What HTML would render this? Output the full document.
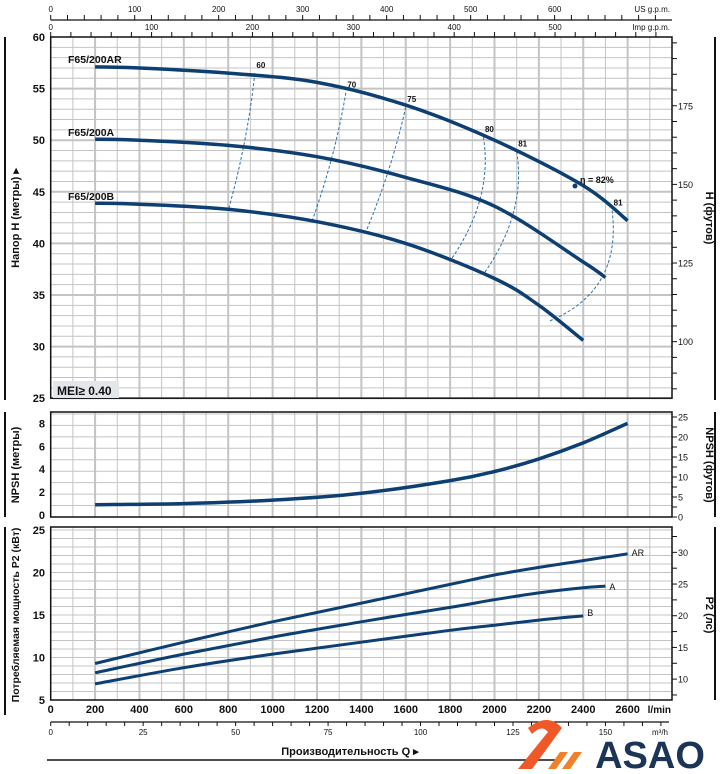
<!DOCTYPE html>
<html><head><meta charset="utf-8"><style>
body{margin:0;background:#fff;width:720px;height:769px;overflow:hidden;font-family:"Liberation Sans",sans-serif}
svg text{font-family:"Liberation Sans","Noto Sans CJK SC",sans-serif}
</style></head><body>
<svg id="c" width="720" height="769" viewBox="0 0 720 769" xmlns="http://www.w3.org/2000/svg"></svg>
<script>
// ---- data ----
const flowQ = [200, 400, 800, 1200, 1600, 2000, 2400, 2600];
const headAR = [57.1, 57.0, 56.5, 55.6, 53.4, 50.0, 45.6, 42.2];
const flowA = [200, 400, 800, 1200, 1600, 2000, 2400, 2500];
const headA = [50.1, 50.0, 49.5, 48.4, 46.4, 43.6, 38.2, 36.7];
const flowB = [200, 400, 800, 1200, 1600, 2000, 2200, 2400];
const headB = [43.9, 43.8, 43.3, 42.1, 40.0, 36.6, 34.0, 30.6];
const npshQ = [200, 600, 1000, 1400, 1800, 2000, 2200, 2400, 2600];
const npshM = [0.9, 1.0, 1.3, 1.9, 3.0, 3.8, 4.9, 6.3, 8.0];
const powQ = [200, 600, 1000, 1400, 1800, 2000, 2200, 2400, 2500, 2600];
const powAR = [9.3, 11.8, 14.2, 16.4, 18.6, 19.7, 20.6, 21.4, 21.8, 22.2];
const powA = [8.2, 10.4, 12.4, 14.2, 15.9, 16.8, 17.6, 18.2, 18.4, 18.4];
const powB = [6.9, 8.8, 10.4, 11.8, 13.2, 13.8, 14.4, 14.9, 15.0, 15.0];
const effLabels = ["60", "70", "75", "80", "81", "81"];
const effTopQ = [920, 1330, 1600, 1950, 2100, 2530];
const effTopH = [56.5, 54.6, 53.2, 50.3, 48.9, 43.2];
const effBotQ = [800, 1180, 1420, 1800, 1950, 2250];
const effBotH = [43.2, 42.3, 41.1, 38.3, 37.0, 32.5];
// ---- scales ----
const X0 = 50.7, X1 = 672;
const x = q => X0 + q / 2800 * (X1 - X0);
const yH = h => 37 + (60 - h) * 10.32;
const yN = n => 515 - n * 11.45;
const yP = p => 530 + (25 - p) * 8.5;
const svg = document.getElementById('c');
const NS = 'http://www.w3.org/2000/svg';
function el(tag, attrs, txt) {
  const e = document.createElementNS(NS, tag);
  for (const k in attrs) e.setAttribute(k, attrs[k]);
  if (txt !== undefined) e.textContent = txt;
  svg.appendChild(e); return e;
}
function txt(xx, yy, s, size, anchor, weight, name, rot) {
  const t = el('text', {x: xx, y: yy, 'font-size': size, 'text-anchor': anchor || 'middle', 'font-weight': weight || 'normal', fill: '#111'}, s);
  if (rot) t.setAttribute('transform', `rotate(${rot} ${xx} ${yy})`);
  
  
  return t;
}
function panel(top, bot, hStep, name) {
  for (let q = 100; q < 2800; q += 100) {
    const l = el('line', {x1: x(q), x2: x(q), y1: top, y2: bot, stroke: '#c4c4c4', 'stroke-width': q % 200 === 0 ? 2 : 1});
    
    
  }
  for (let i = 0; ; i++) {
    const yy = bot - i * hStep.step; if (yy <= top + 1) break;
    const l = el('line', {x1: X0, x2: X1, y1: yy, y2: yy, stroke: '#c4c4c4', 'stroke-width': hStep.major && i % hStep.major === 0 ? 2 : 1});
    
    
  }
  const r = el('rect', {x: X0, y: top, width: X1 - X0, height: bot - top, fill: 'none', stroke: '#111', 'stroke-width': 1.5});
  
  
}
function curve(qs, vs, ys, name, w) {
  const P = qs.map((q, i) => [x(q), ys(vs[i])]);
  let d = 'M' + P[0][0].toFixed(1) + ',' + P[0][1].toFixed(1);
  for (let i = 0; i < P.length - 1; i++) {
    const p0 = P[i - 1] || P[i], p1 = P[i], p2 = P[i + 1], p3 = P[i + 2] || P[i + 1];
    const c1 = [p1[0] + (p2[0] - p0[0]) / 6, p1[1] + (p2[1] - p0[1]) / 6];
    const c2 = [p2[0] - (p3[0] - p1[0]) / 6, p2[1] - (p3[1] - p1[1]) / 6];
    d += ` C${c1[0].toFixed(1)},${c1[1].toFixed(1)} ${c2[0].toFixed(1)},${c2[1].toFixed(1)} ${p2[0].toFixed(1)},${p2[1].toFixed(1)}`;
  }
  const p = el('path', {d: d, fill: 'none', stroke: '#0d3f73', 'stroke-width': w || 3.5, 'stroke-linejoin': 'round', 'stroke-linecap': 'butt'});
  
  
}
function rtick(yy, label, name) {
  const l = el('line', {x1: X1, x2: X1 + 5, y1: yy, y2: yy, stroke: '#111', 'stroke-width': 1});
  
  
  if (label !== null) txt(X1 + 6, yy + 3.5, label, 9, 'start', 'normal', name + '-label');
}
// ---- top panel ----
panel(37, yH(25), {step: 10.32, major: 5}, 'head-panel');
for (let h = 25; h <= 60; h += 5) txt(45, yH(h) + 4, String(h), 11, 'end', 'bold', 'head-y-tick-label');
for (let f = 85; f <= 195; f += 5) { const m = f / 3.281; if (m < 25 || m > 60) continue; rtick(yH(m), f % 25 === 0 ? String(f) : null, 'head-ft'); }
effLabels.forEach((lab, i) => {
  const x1 = x(effTopQ[i]), y1 = yH(effTopH[i]), x2 = x(effBotQ[i]), y2 = yH(effBotH[i]);
  const cx = (i >= 3) ? Math.max(x1, x2) + 10 : (x1 + x2) / 2 + 6;
  const p = el('path', {d: `M${x1},${y1} Q${cx},${(y1 + y2) / 2 + (i === 5 ? 25 : 0)} ${x2},${y2}`, fill: 'none', stroke: '#2f6fa8', 'stroke-width': 1, 'stroke-dasharray': '3,2'});
  
  
  txt(x1 + 6, y1 - 5, lab, 8, 'middle', 'bold', 'efficiency-label');
});
curve(flowQ, headAR, yH, 'head-curve-ar');
curve(flowA, headA, yH, 'head-curve-a');
curve(flowB, headB, yH, 'head-curve-b');
txt(68, 63, 'F65/200AR', 10.5, 'start', 'bold', 'curve-label-ar');
txt(68, 136, 'F65/200A', 10.5, 'start', 'bold', 'curve-label-a');
txt(68, 200, 'F65/200B', 10.5, 'start', 'bold', 'curve-label-b');
txt(580, 183, 'η = 82%', 9, 'start', 'bold', 'best-efficiency-label');
el('circle', {cx: 575, cy: 186, r: 2.5, fill: '#0d3f73'});
const mei = el('rect', {x: 53, y: 381, width: 66, height: 17, fill: '#e3e6ea'});
 
txt(57, 395, 'MEI≥ 0.40', 12, 'start', 'bold', 'mei-label');
// ---- NPSH panel ----
panel(412, 517, {step: 11.45, major: 0}, 'npsh-panel');
for (let n = 0; n <= 8; n += 2) txt(45, yN(n) + 4, String(n), 11, 'end', 'bold', 'npsh-y-tick-label');
for (let f = 0; f <= 25; f += 2.5) rtick(517 - f * 4, f % 5 === 0 ? String(f) : null, 'npsh-ft');
curve(npshQ, npshM, yN, 'npsh-curve');
// ---- power panel ----
panel(527, 700, {step: 8.5, major: 0}, 'power-panel');
for (let p = 5; p <= 25; p += 5) txt(45, yP(p) + 4, String(p), 11, 'end', 'bold', 'power-y-tick-label');
for (let hp = 7.5; hp <= 32.5; hp += 2.5) rtick(yP(hp * 0.7457), hp % 5 === 0 ? String(hp) : null, 'power-hp');
curve(powQ, powAR, yP, 'power-curve-ar', 3);
curve(powQ.slice(0, 9), powA.slice(0, 9), yP, 'power-curve-a', 3);
curve(powQ.slice(0, 8), powB.slice(0, 8), yP, 'power-curve-b', 3);
txt(x(2600) + 4, yP(22.3) + 3, 'AR', 9, 'start', 'normal', 'power-label-ar');
txt(x(2500) + 4, yP(18.4) + 4, 'A', 9, 'start', 'normal', 'power-label-a');
txt(x(2400) + 4, yP(15.0) + 1, 'B', 9, 'start', 'normal', 'power-label-b');
for (let q = 0; q <= 2600; q += 200) txt(x(q), 713, String(q), 11, 'middle', 'bold', 'x-tick-label');
txt(x(2800) - 1, 713, 'l/min', 10, 'end', 'bold', 'x-unit-label');
// m3/h axis
el('line', {x1: X0, x2: X1 - 3, y1: 722, y2: 722, stroke: '#111', 'stroke-width': 1.2});
for (let m = 0; m <= 165; m += 5) {
  const xx = x(m * 16.667); if (xx > X1) break;
  el('line', {x1: xx, x2: xx, y1: 722, y2: 726, stroke: '#111'});
  if (m % 25 === 0) txt(xx, 735, String(m), 8, 'middle', 'normal', 'm3h-tick-label');
}
txt(668, 735, 'm³/h', 8, 'end', 'normal', 'm3h-unit-label');
txt(350, 755, 'Производительность Q ▸', 11, 'middle', 'bold', 'x-axis-title');
el('line', {x1: 47, x2: 560, y1: 760, y2: 760, stroke: '#111', 'stroke-width': 1.5});
// top gpm axes
el('line', {x1: X0, x2: X1, y1: 20, y2: 20, stroke: '#111', 'stroke-width': 1.2});
for (let g = 0; g <= 740; g += 20) { const xx = x(g * 3.785); if (xx > X1) break; el('line', {x1: xx, x2: xx, y1: 15, y2: 20, stroke: '#111'}); if (g % 100 === 0 && g <= 600) txt(xx, 12, String(g), 8, 'middle', 'normal', 'us-gpm-tick-label'); }
txt(670, 12, 'US g.p.m.', 8, 'end', 'normal', 'us-gpm-unit');
for (let g = 0; g <= 610; g += 20) { const xx = x(g * 4.546); if (xx > X1) break; el('line', {x1: xx, x2: xx, y1: 32, y2: 37, stroke: '#111'}); if (g % 100 === 0 && g <= 500) txt(xx, 30, String(g), 8, 'middle', 'normal', 'imp-gpm-tick-label'); }
txt(670, 30, 'Imp g.p.m.', 8, 'end', 'normal', 'imp-gpm-unit');
[[5, 37, 400], [5, 412, 517], [5, 527, 715], [715, 37, 400], [715, 412, 517], [715, 527, 700]].forEach(b => {
  const l = el('line', {x1: b[0], x2: b[0], y1: b[1], y2: b[2], stroke: '#111', 'stroke-width': 2});
   
});
txt(19, 218, 'Напор H (метры) ▸', 11, 'middle', 'bold', 'head-y-axis-title', -90);
txt(19, 465, 'NPSH (метры)', 11, 'middle', 'bold', 'npsh-y-axis-title', -90);
txt(19, 615, 'Потребляемая мощность P2 (кВт)', 10.5, 'middle', 'bold', 'power-y-axis-title', -90);
txt(706, 218, 'H (футов)', 11, 'middle', 'bold', 'head-ft-axis-title', 90);
txt(706, 465, 'NPSH (футов)', 11, 'middle', 'bold', 'npsh-ft-axis-title', 90);
txt(706, 615, 'P2 (лс)', 11, 'middle', 'bold', 'power-hp-axis-title', 90);
// logo
const g1 = el('path', {d: 'M528,728 Q548,712 562,728 L532,769 L518,769 L548,732 Q542,724 532,734 Z', fill: '#f0582a'});
 
el('path', {d: 'M548,769 L560,752 L568,752 L556,769 Z M562,769 L574,752 L582,752 L570,769 Z', fill: '#f0812a'});
const lt = txt(650, 768, 'ASAO', 38, 'middle', 'bold', 'logo-text');
lt.setAttribute('fill', '#1c3557');
</script>
</body></html>
